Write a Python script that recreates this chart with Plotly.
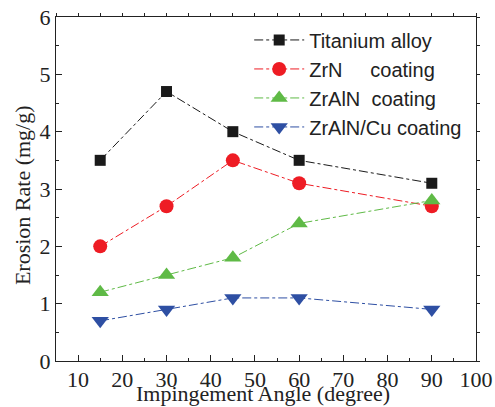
import plotly.graph_objects as go

angles = [15, 30, 45, 60, 90]
titanium = [3.5, 4.7, 4.0, 3.5, 3.1]
zrn = [2.0, 2.7, 3.5, 3.1, 2.7]
zraln = [1.2, 1.5, 1.8, 2.4, 2.8]
zraln_cu = [0.7, 0.9, 1.1, 1.1, 0.9]

names = ["Titanium alloy", "ZrN\u00a0\u00a0\u00a0\u00a0\u00a0coating", "ZrAlN\u00a0\u00a0coating", "ZrAlN/Cu coating"]
series = [titanium, zrn, zraln, zraln_cu]
colors = ["#1a1a1a", "#ee1c24", "#5fba46", "#2e4fa3"]
symbols = ["square", "circle", "triangle-up", "triangle-down"]
sizes = [11, 14, 15, 15]

fig = go.Figure()
for n, s, c, sym, sz in zip(names, series, colors, symbols, sizes):
    fig.add_trace(go.Scatter(
        x=angles, y=s, name=n, mode="lines+markers",
        line=dict(color=c, width=1, dash="dashdot"),
        marker=dict(symbol=sym, size=sz, color=c),
    ))

fig.add_trace(go.Scatter(x=[None], y=[None], xaxis="x2", yaxis="y2", showlegend=False))

serif = "Liberation Serif, Times New Roman, serif"
fig.update_layout(
    width=495, height=407,
    margin=dict(l=56, r=19, t=17, b=46),
    paper_bgcolor="white", plot_bgcolor="white",
    showlegend=True,
    legend=dict(x=0.46, y=0.99, xanchor="left", yanchor="top",
                font=dict(family="Liberation Sans, Arial, sans-serif", size=20, color="#222"),
                bgcolor="rgba(0,0,0,0)", tracegroupgap=0, itemwidth=50),
    xaxis=dict(range=[5, 100], dtick=10, tick0=0, showgrid=False, zeroline=False,
               automargin=False,
               showline=True, linecolor="#222", linewidth=1.2,
               ticks="inside", ticklen=6, tickcolor="#222",
               ticklabelstandoff=-2,
               minor=dict(dtick=5, ticks="inside", ticklen=3, tickcolor="#222"),
               tickfont=dict(family=serif, size=22, color="#222")),
    yaxis=dict(range=[0, 6], dtick=1,
               showgrid=False, zeroline=False, automargin=False,
               showline=True, linecolor="#222", linewidth=1.2,
               ticks="inside", ticklen=6, tickcolor="#222",
               minor=dict(dtick=0.5, ticks="inside", ticklen=3, tickcolor="#222"),
               tickfont=dict(family=serif, size=22, color="#222")),
    xaxis2=dict(overlaying="x", matches="x", side="top", showticklabels=False,
                automargin=False,
                showgrid=False, zeroline=False, showline=True, linecolor="#222", linewidth=1.2,
                ticks="outside", ticklen=3, dtick=5, tick0=0, tickcolor="#222"),
    yaxis2=dict(overlaying="y", matches="y", side="right", showticklabels=False,
                automargin=False,
                showgrid=False, zeroline=False, showline=True, linecolor="#222", linewidth=1.2,
                ticks="outside", ticklen=3, dtick=0.5, tickcolor="#222"),
    annotations=[
        dict(text="Impingement Angle (degree)", xref="paper", yref="paper",
             x=0.493, y=-0.1337, xanchor="center", yanchor="bottom", showarrow=False,
             borderpad=0,
             font=dict(family=serif, size=22, color="#222")),
        dict(text="Erosion Rate (mg/g)", xref="paper", yref="paper", textangle=-90,
             x=-0.078, y=0.483, xanchor="center", yanchor="middle", showarrow=False,
             font=dict(family=serif, size=22, color="#222")),
    ],
)

fig.write_html("out.html")
